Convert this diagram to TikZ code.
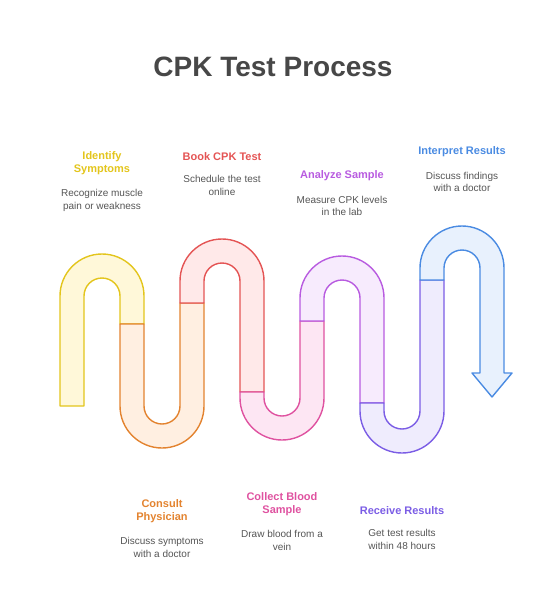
\documentclass[tikz,border=0pt]{standalone}
\usepackage{fontspec}
\setmainfont{Liberation Sans}
\usepackage{tikz}
\usetikzlibrary{positioning}
\definecolor{titlegray}{HTML}{474747}
\definecolor{descgray}{HTML}{555555}
\definecolor{ylwline}{HTML}{E3C51C}\definecolor{ylwfill}{HTML}{FFF8D9}
\definecolor{orgline}{HTML}{E3832F}\definecolor{orgfill}{HTML}{FFEFE1}
\definecolor{redline}{HTML}{E45454}\definecolor{redfill}{HTML}{FFE9E9}
\definecolor{pnkline}{HTML}{DF52A0}\definecolor{pnkfill}{HTML}{FDE6F3}
\definecolor{prpline}{HTML}{B85BE0}\definecolor{prpfill}{HTML}{F7EBFD}
\definecolor{vltline}{HTML}{7B5DE5}\definecolor{vltfill}{HTML}{EFECFD}
\definecolor{bluline}{HTML}{4A8BE2}\definecolor{blufill}{HTML}{E8F1FD}
\tikzstyle{pipe}=[line width=1.4pt,line join=round]
\tikzstyle{steptitle}=[font=\bfseries\fontsize{11}{13.5}\selectfont,align=center,inner sep=0pt,anchor=north]
\tikzstyle{stepdesc}=[font=\fontsize{10}{12.5}\selectfont,text=descgray,align=center,inner sep=0pt]
% arch: fill, line, centre x, centre y, left end y, right end y
\newcommand{\archup}[6]{\draw[pipe,draw=#2,fill=#1] (#3-42,-#5) -- (#3-42,-#4) arc (180:0:42) -- (#3+42,-#6) -- (#3+18,-#6) -- (#3+18,-#4) arc (0:180:18) -- (#3-18,-#5) -- cycle;}
\newcommand{\archdown}[6]{\draw[pipe,draw=#2,fill=#1] (#3-42,-#5) -- (#3-42,-#4) arc (180:360:42) -- (#3+42,-#6) -- (#3+18,-#6) -- (#3+18,-#4) arc (360:180:18) -- (#3-18,-#5) -- cycle;}

\begin{document}
\begin{tikzpicture}[x=1pt,y=1pt]
\useasboundingbox (0,0) rectangle (546,-606);

\node (title) at (273,-67) {\bfseries\fontsize{28}{30}\selectfont\color{titlegray}CPK Test Process};

% the pipe
\archup{ylwfill}{ylwline}{102}{296}{406}{324}
\archdown{orgfill}{orgline}{162}{406}{324}{303}
\archup{redfill}{redline}{222}{281}{303}{392}
\archdown{pnkfill}{pnkline}{282}{398}{392}{321}
\archup{prpfill}{prpline}{342}{298}{321}{403}
\archdown{vltfill}{vltline}{402}{411}{403}{280}
\draw[pipe,draw=bluline,fill=blufill] (420,-280) -- (420,-268) arc (180:0:42) -- (504,-373) -- (512,-373) -- (492,-397) -- (472,-373) -- (480,-373) -- (480,-268) arc (0:180:18) -- (444,-280) -- cycle;

% steps above
\node[steptitle,text=ylwline] (identify) at (102,-151) {Identify\\Symptoms};
\node[stepdesc,below=14pt of identify] (identifyd) {Recognize muscle\\pain or weakness};
\node[steptitle,text=redline] (book) at (222,-152) {Book CPK Test};
\node[stepdesc,below=15pt of book] (bookd) {Schedule the test\\online};
\node[steptitle,text=prpline] (analyze) at (342,-170) {Analyze Sample};
\node[stepdesc,below=15pt of analyze] (analyzed) {Measure CPK levels\\in the lab};
\node[steptitle,text=bluline] (interpret) at (462,-146) {Interpret Results};
\node[stepdesc,below=15pt of interpret] (interpretd) {Discuss findings\\with a doctor};

% steps below
\node[steptitle,text=orgline] (consult) at (162,-499) {Consult\\Physician};
\node[stepdesc,below=14pt of consult] (consultd) {Discuss symptoms\\with a doctor};
\node[steptitle,text=pnkline] (collect) at (282,-492) {Collect Blood\\Sample};
\node[stepdesc,below=14pt of collect] (collectd) {Draw blood from a\\vein};
\node[steptitle,text=vltline] (receive) at (402,-506) {Receive Results};
\node[stepdesc,below=15pt of receive] (received) {Get test results\\within 48 hours};
\end{tikzpicture}
\end{document}
